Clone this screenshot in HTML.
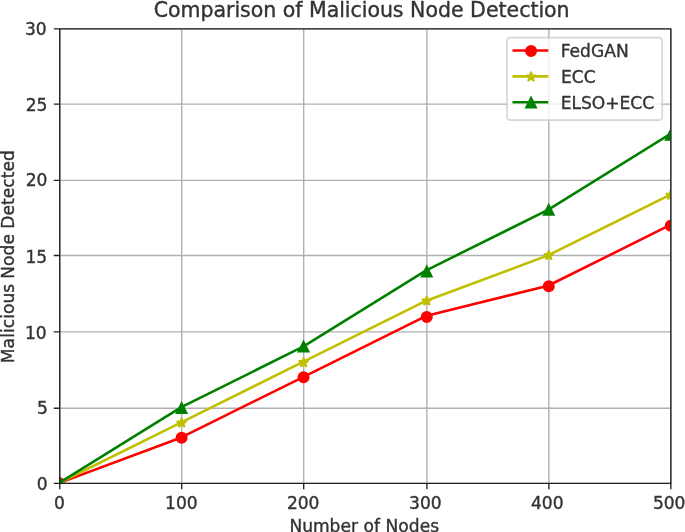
<!DOCTYPE html>
<html><head><meta charset="utf-8"><style>html,body{margin:0;padding:0;background:#fff;overflow:hidden}svg{display:block}</style></head>
<body>
<svg width="685" height="532" viewBox="0 0 685 532"><defs></defs><rect width="685" height="532" fill="#fff"/>
<g><g transform="translate(-39.424,-43.102) scale(1.232014,1.231481)">
<defs><clipPath id="ax"><rect x="80" y="58" width="496" height="369"/></clipPath></defs>
<path d="M80.5 58.5V427.5M179.5 58.5V427.5M278.5 58.5V427.5M378.5 58.5V427.5M477.5 58.5V427.5M576.5 58.5V427.5M80.5 427.5H576.5M80.5 366.5H576.5M80.5 304.5H576.5M80.5 242.5H576.5M80.5 181.5H576.5M80.5 119.5H576.5M80.5 58.5H576.5" stroke="#b0b0b0" stroke-width="1.111" stroke-linecap="butt" fill="none"/>
<g clip-path="url(#ax)"><polyline points="80,427.2 179.2,390.24 278.4,340.96 377.6,291.68 476.8,267.04 576,217.76" fill="none" stroke="#ff0000" stroke-width="2.083" stroke-linejoin="round" stroke-linecap="square"/>
<circle cx="80.4" cy="427.4" r="4.167" fill="#ff0000" stroke="#ff0000" stroke-width="1.389"/>
<circle cx="179.4" cy="390.4" r="4.167" fill="#ff0000" stroke="#ff0000" stroke-width="1.389"/>
<circle cx="278.4" cy="341.4" r="4.167" fill="#ff0000" stroke="#ff0000" stroke-width="1.389"/>
<circle cx="378.4" cy="292.4" r="4.167" fill="#ff0000" stroke="#ff0000" stroke-width="1.389"/>
<circle cx="477.4" cy="267.4" r="4.167" fill="#ff0000" stroke="#ff0000" stroke-width="1.389"/>
<circle cx="576.4" cy="218.4" r="4.167" fill="#ff0000" stroke="#ff0000" stroke-width="1.389"/>
</g>
<g clip-path="url(#ax)"><polyline points="80,427.2 179.2,377.92 278.4,328.64 377.6,279.36 476.8,242.4 576,193.12" fill="none" stroke="#bfbf00" stroke-width="2.083" stroke-linejoin="round" stroke-linecap="square"/>
<polygon points="80.4,423.233 79.465,426.112 76.437,426.112 78.886,427.892 77.951,430.771 80.4,428.992 82.849,430.771 81.914,427.892 84.363,426.112 81.335,426.112" fill="#bfbf00" stroke="#bfbf00" stroke-width="1.389" stroke-linejoin="bevel"/>
<polygon points="179.4,374.233 178.465,377.112 175.437,377.112 177.886,378.892 176.951,381.771 179.4,379.992 181.849,381.771 180.914,378.892 183.363,377.112 180.335,377.112" fill="#bfbf00" stroke="#bfbf00" stroke-width="1.389" stroke-linejoin="bevel"/>
<polygon points="278.4,325.233 277.465,328.112 274.437,328.112 276.886,329.892 275.951,332.771 278.4,330.992 280.849,332.771 279.914,329.892 282.363,328.112 279.335,328.112" fill="#bfbf00" stroke="#bfbf00" stroke-width="1.389" stroke-linejoin="bevel"/>
<polygon points="378.4,275.233 377.465,278.112 374.437,278.112 376.886,279.892 375.951,282.771 378.4,280.992 380.849,282.771 379.914,279.892 382.363,278.112 379.335,278.112" fill="#bfbf00" stroke="#bfbf00" stroke-width="1.389" stroke-linejoin="bevel"/>
<polygon points="477.4,238.233 476.465,241.112 473.437,241.112 475.886,242.892 474.951,245.771 477.4,243.992 479.849,245.771 478.914,242.892 481.363,241.112 478.335,241.112" fill="#bfbf00" stroke="#bfbf00" stroke-width="1.389" stroke-linejoin="bevel"/>
<polygon points="576.4,189.233 575.465,192.112 572.437,192.112 574.886,193.892 573.951,196.771 576.4,194.992 578.849,196.771 577.914,193.892 580.363,192.112 577.335,192.112" fill="#bfbf00" stroke="#bfbf00" stroke-width="1.389" stroke-linejoin="bevel"/>
</g>
<g clip-path="url(#ax)"><polyline points="80,427.2 179.2,365.6 278.4,316.32 377.6,254.72 476.8,205.44 576,143.84" fill="none" stroke="#008000" stroke-width="2.083" stroke-linejoin="round" stroke-linecap="square"/>
<polygon points="80.4,423.233 76.233,431.567 84.567,431.567" fill="#008000" stroke="#008000" stroke-width="1.389" stroke-linejoin="miter"/>
<polygon points="179.4,362.233 175.233,370.567 183.567,370.567" fill="#008000" stroke="#008000" stroke-width="1.389" stroke-linejoin="miter"/>
<polygon points="278.4,312.233 274.233,320.567 282.567,320.567" fill="#008000" stroke="#008000" stroke-width="1.389" stroke-linejoin="miter"/>
<polygon points="378.4,251.233 374.233,259.567 382.567,259.567" fill="#008000" stroke="#008000" stroke-width="1.389" stroke-linejoin="miter"/>
<polygon points="477.4,201.233 473.233,209.567 481.567,209.567" fill="#008000" stroke="#008000" stroke-width="1.389" stroke-linejoin="miter"/>
<polygon points="576.4,140.233 572.233,148.567 580.567,148.567" fill="#008000" stroke="#008000" stroke-width="1.389" stroke-linejoin="miter"/>
</g>
<path d="M80.5 427.5V58.5M576.5 427.5V58.5M80.5 427.5H576.5M80.5 58.5H576.5" stroke="#222222" stroke-width="1.111" stroke-linecap="square" fill="none"/>
<path d="M80.5 427.5v4.861M179.5 427.5v4.861M278.5 427.5v4.861M378.5 427.5v4.861M477.5 427.5v4.861M576.5 427.5v4.861M80.5 427.5h-4.861M80.5 366.5h-4.861M80.5 304.5h-4.861M80.5 242.5h-4.861M80.5 181.5h-4.861M80.5 119.5h-4.861M80.5 58.5h-4.861" stroke="#222222" stroke-width="1.111" fill="none"/>
<text font-family="'DejaVu Sans', sans-serif" stroke="#333333" stroke-width="0.3" stroke-linejoin="round" font-size="13.889" fill="#333333" x="75.828" y="448.085">0</text>
<text font-family="'DejaVu Sans', sans-serif" stroke="#333333" stroke-width="0.3" stroke-linejoin="round" font-size="13.889" fill="#333333" x="166.012 174.887 183.637" y="448.085">100</text>
<text font-family="'DejaVu Sans', sans-serif" stroke="#333333" stroke-width="0.3" stroke-linejoin="round" font-size="13.889" fill="#333333" x="264.869 273.619 282.369" y="448.085">200</text>
<text font-family="'DejaVu Sans', sans-serif" stroke="#333333" stroke-width="0.3" stroke-linejoin="round" font-size="13.889" fill="#333333" x="364.069 372.819 381.569" y="448.085">300</text>
<text font-family="'DejaVu Sans', sans-serif" stroke="#333333" stroke-width="0.3" stroke-linejoin="round" font-size="13.889" fill="#333333" x="463.066 471.816 480.566" y="448.085">400</text>
<text font-family="'DejaVu Sans', sans-serif" stroke="#333333" stroke-width="0.3" stroke-linejoin="round" font-size="13.889" fill="#333333" x="562.063 570.813 579.563" y="448.085">500</text>
<text font-family="'DejaVu Sans', sans-serif" stroke="#333333" stroke-width="0.3" stroke-linejoin="round" font-size="13.889" fill="#333333" x="61.934" y="432.68">0</text>
<text font-family="'DejaVu Sans', sans-serif" stroke="#333333" stroke-width="0.3" stroke-linejoin="round" font-size="13.889" fill="#333333" x="62.137" y="370.877">5</text>
<text font-family="'DejaVu Sans', sans-serif" stroke="#333333" stroke-width="0.3" stroke-linejoin="round" font-size="13.889" fill="#333333" x="52.247 61.122" y="309.886">10</text>
<text font-family="'DejaVu Sans', sans-serif" stroke="#333333" stroke-width="0.3" stroke-linejoin="round" font-size="13.889" fill="#333333" x="52.653 61.528" y="248.286">15</text>
<text font-family="'DejaVu Sans', sans-serif" stroke="#333333" stroke-width="0.3" stroke-linejoin="round" font-size="13.889" fill="#333333" x="52.981 61.731" y="185.671">20</text>
<text font-family="'DejaVu Sans', sans-serif" stroke="#333333" stroke-width="0.3" stroke-linejoin="round" font-size="13.889" fill="#333333" x="52.981 61.731" y="124.883">25</text>
<text font-family="'DejaVu Sans', sans-serif" stroke="#333333" stroke-width="0.3" stroke-linejoin="round" font-size="13.889" fill="#333333" x="52.372 61.122" y="63.08">30</text>
<text font-family="'DejaVu Sans', sans-serif" stroke="#333333" stroke-width="0.3" stroke-linejoin="round" font-size="13.889" fill="#333333" x="266.907 277.282 286.032 299.532 308.407 316.907 322.657 327.032 335.532 340.532 344.907 355.282 363.782 372.657 381.157" y="466.676">Number of Nodes</text>
<text font-family="'DejaVu Sans', sans-serif" stroke="#333333" stroke-width="0.3" stroke-linejoin="round" font-size="13.889" fill="#333333" transform="translate(43.146,243.415) rotate(-90)" x="-86.5 -74.5 -65.875 -62 -58.125 -50.5 -46.625 -38.125 -29.375 -22.25 -17.875 -7.5 1 9.875 18.375 22.75 33.5 42 47.5 56 63.625 69.125 77.625" y="0">Malicious Node Detected</text>
<text font-family="'DejaVu Sans', sans-serif" stroke="#333333" stroke-width="0.3" stroke-linejoin="round" font-size="16.667" fill="#333333" x="156.89 168.39 178.515 194.765 205.265 215.39 222.265 226.89 235.64 245.765 256.265 261.515 271.64 277.515 282.765 297.14 307.265 311.89 316.515 325.64 330.265 340.39 350.89 359.64 364.89 377.39 387.515 398.015 408.265 413.515 426.39 436.64 443.14 453.39 462.515 469.015 473.64 483.765" y="48.455">Comparison of Malicious Node Detection</text>
<rect x="443.5" y="65.5" width="126" height="67" rx="2.778" ry="2.778" fill="#ffffff" stroke="#cccccc" stroke-width="1.389" opacity="0.8"/>
<path d="M449 76H476" stroke="#ff0000" stroke-width="2.083" stroke-linecap="square"/>
<circle cx="463.05" cy="76.45" r="4.167" fill="#ff0000" stroke="#ff0000" stroke-width="1.389"/>
<text font-family="'DejaVu Sans', sans-serif" stroke="#333333" stroke-width="0.3" stroke-linejoin="round" font-size="13.889" fill="#333333" x="487.098 494.348 502.848 511.723 522.473 531.973" y="81.066">FedGAN</text>
<path d="M449 97H476" stroke="#bfbf00" stroke-width="2.083" stroke-linecap="square"/>
<polygon points="463.05,93.233 462.115,96.112 459.087,96.112 461.536,97.892 460.601,100.771 463.05,98.992 465.499,100.771 464.564,97.892 467.013,96.112 463.985,96.112" fill="#bfbf00" stroke="#bfbf00" stroke-width="1.389" stroke-linejoin="bevel"/>
<text font-family="'DejaVu Sans', sans-serif" stroke="#333333" stroke-width="0.3" stroke-linejoin="round" font-size="13.889" fill="#333333" x="487.301 496.051 505.801" y="102.006">ECC</text>
<path d="M449 118H476" stroke="#008000" stroke-width="2.083" stroke-linecap="square"/>
<polygon points="463.05,114.083 458.883,122.417 467.217,122.417" fill="#008000" stroke="#008000" stroke-width="1.389" stroke-linejoin="miter"/>
<text font-family="'DejaVu Sans', sans-serif" stroke="#333333" stroke-width="0.3" stroke-linejoin="round" font-size="13.889" fill="#333333" x="487.098 495.848 503.598 512.348 523.223 534.848 543.598 553.348" y="123.159">ELSO+ECC</text>
</g></g>
</svg>
</body></html>
